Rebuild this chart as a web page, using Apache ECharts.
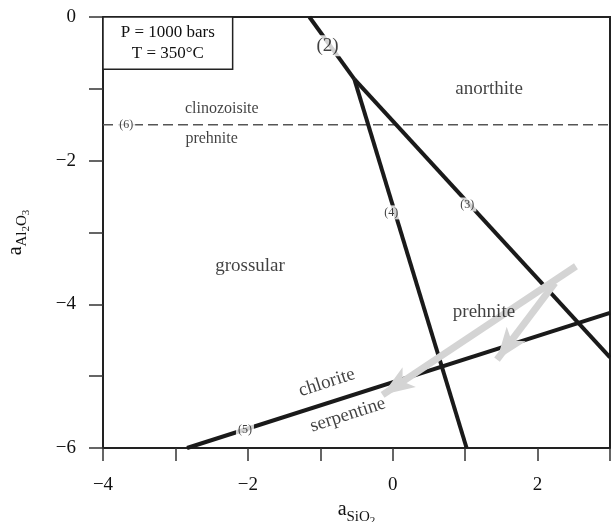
<!DOCTYPE html>
<html>
<head>
<meta charset="utf-8">
<script src="https://cdn.jsdelivr.net/npm/echarts@6/dist/echarts.min.js"></script>
<style>
  html, body { margin: 0; padding: 0; background: #fff; }
  #chart { width: 611px; height: 522px; }
</style>
</head>
<body>
<div id="chart"></div>
<script>
// reaction lines (x = log a SiO2, y = log a Al2O3)
const line2 = [[-1.15, 0], [-0.53, -0.865]];
const line3 = [[-0.53, -0.865], [3.0, -4.74]];
const line4 = [[-0.53, -0.865], [1.02, -6]];
const line5 = [[-2.84, -6], [3.0, -4.12]];
const line6 = [[-4, -1.5], [3, -1.5]];

// reaction numbers sitting on the lines
const tagNames = ["(2)", "(3)", "(4)", "(5)", "(6)"];
const tagPos = [[-0.9, -0.4], [1.03, -2.61], [-0.02, -2.72], [-2.04, -5.75], [-3.68, -1.5]];
const tagSize = [19, 12, 12, 12, 12];

// mineral fields
const fieldNames = ["anorthite", "clinozoisite", "prehnite", "grossular", "prehnite", "chlorite", "serpentine"];
const fieldPos = [[1.33, -1.0], [-2.36, -1.28], [-2.5, -1.7], [-1.97, -3.47], [1.26, -4.1], [-0.91, -5.09], [-0.62, -5.54]];
const fieldSize = [19, 16, 16, 19, 19, 19, 19];
const fieldRot = [0, 0, 0, 0, 0, 18, 18];

// grey path arrows [from, to]
const arrows = [
  [[2.53, -3.47], [-0.14, -5.26]],
  [[2.24, -3.7], [1.44, -4.77]],
];

// conditions box corners
const boxCorner = [[-4, 0], [-2.21, -0.726]];

const SERIF = "'Liberation Serif', 'DejaVu Serif', serif";
const INK = "#111";

const chart = echarts.init(document.getElementById("chart"));

const fmtTick = (v) => {
  if (v % 2 !== 0) return "";
  return v < 0 ? "\u2212" + Math.abs(v) : String(v);
};

const blackLine = (data) => ({
  type: "line",
  data: data,
  symbol: "none",
  z: 3,
  lineStyle: { color: "#1a1a1a", width: 4, cap: "butt" },
  silent: true,
});

const nameRich = {
  a: { fontSize: 20, fontFamily: SERIF, color: INK },
  s: { fontSize: 15, fontFamily: SERIF, color: INK, padding: [14, 0, 0, 0] },
  t: { fontSize: 11, fontFamily: SERIF, color: INK, padding: [22, 0, 0, 0] },
};

const option = {
  animation: false,
  grid: {
    left: 103,
    right: 1,
    top: 17,
    bottom: 74,
    containLabel: false,
    outerBoundsMode: "none",
    show: true,
    borderColor: "#222",
    borderWidth: 2,
  },
  xAxis: {
    type: "value",
    min: -4,
    max: 3,
    interval: 1,
    splitLine: { show: false },
    axisLine: { onZero: false, lineStyle: { color: "#222", width: 2 } },
    axisTick: { inside: false, length: 13, lineStyle: { color: "#333", width: 1.5 } },
    axisLabel: { formatter: fmtTick, margin: 28, color: INK, fontSize: 19, fontFamily: SERIF },
    name: "{a|a}{s|SiO}{t|2}",
    nameLocation: "middle",
    nameGap: 43,
    nameTextStyle: { fontFamily: SERIF, color: INK, rich: nameRich },
  },
  yAxis: {
    type: "value",
    min: -6,
    max: 0,
    interval: 1,
    splitLine: { show: false },
    axisLine: { onZero: false, lineStyle: { color: "#222", width: 2 } },
    axisTick: { inside: false, length: 14, lineStyle: { color: "#333", width: 1.5 } },
    axisLabel: { formatter: fmtTick, margin: 27, color: INK, fontSize: 19, fontFamily: SERIF },
    name: "{a|a}{s|Al}{t|2}{s|O}{t|3}",
    nameLocation: "middle",
    nameGap: 71,
    nameTextStyle: { fontFamily: SERIF, color: INK, rich: nameRich },
  },
  series: [
    {
      // grey arrows, under everything
      type: "line",
      data: [],
      z: 1,
      silent: true,
      markLine: {
        silent: true,
        symbol: ["none", "arrow"],
        symbolSize: [18, 32],
        label: { show: false },
        lineStyle: { color: "#d4d4d4", width: 7, type: "solid" },
        data: arrows.map((a) => [{ coord: a[0] }, { coord: a[1] }]),
      },
      markArea: {
        silent: true,
        itemStyle: { color: "#fff", borderColor: "#222", borderWidth: 1.5 },
        label: {
          show: true,
          position: "inside",
          formatter: "P = 1000 bars\nT = 350\u00b0C",
          fontFamily: SERIF,
          fontSize: 17,
          lineHeight: 21,
          color: INK,
        },
        data: [[{ coord: boxCorner[0] }, { coord: boxCorner[1] }]],
      },
    },
    {
      type: "line",
      data: line6,
      symbol: "none",
      z: 2,
      silent: true,
      lineStyle: { color: "#555", width: 1.5, type: [10, 5] },
    },
    blackLine(line2),
    blackLine(line3),
    blackLine(line4),
    blackLine(line5),
    {
      type: "scatter",
      z: 5,
      symbolSize: 1,
      itemStyle: { color: "rgba(0,0,0,0)" },
      silent: true,
      data: tagNames.map((n, i) => ({
        name: n,
        value: tagPos[i],
        label: { fontSize: tagSize[i] },
      })),
      label: {
        show: true,
        position: "inside",
        formatter: "{b}",
        fontFamily: SERIF,
        color: INK,
        backgroundColor: "#fff",
        padding: [1, 2],
      },
    },
    {
      type: "scatter",
      z: 6,
      symbolSize: 1,
      itemStyle: { color: "rgba(0,0,0,0)" },
      silent: true,
      data: fieldNames.map((n, i) => ({
        name: n,
        value: fieldPos[i],
        label: { fontSize: fieldSize[i], rotate: fieldRot[i] },
      })),
      label: {
        show: true,
        position: "inside",
        formatter: "{b}",
        fontFamily: SERIF,
        color: INK,
      },
    },
  ],
};

chart.setOption(option);
</script>
</body>
</html>
